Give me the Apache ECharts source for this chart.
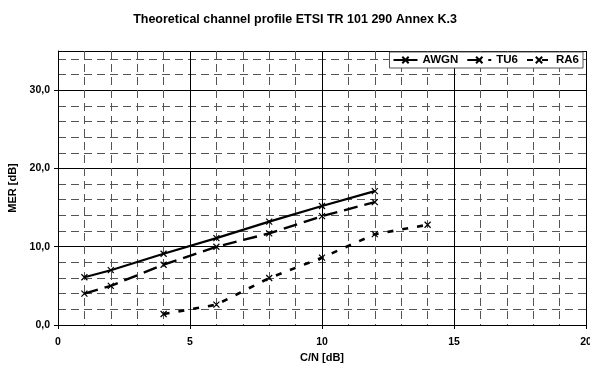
<!DOCTYPE html>
<html><head><meta charset="utf-8">
<script src="https://cdn.jsdelivr.net/npm/echarts@6/dist/echarts.min.js"></script>
<style>html,body{margin:0;padding:0;background:#fff}#c{width:590px;height:365px}</style>
</head><body><div id="c"></div>
<script>
var titleText = 'Theoretical channel profile ETSI TR 101 290 Annex K.3';
var xName = 'C/N [dB]';
var yName = 'MER [dB]';
var seriesNames = ['AWGN', 'TU6', 'RA6'];
var awgnX = [1, 2, 4, 6, 8, 10, 12];
var awgnY = [6.1, 7.0, 9.1, 11.1, 13.2, 15.2, 17.1];
var tu6X = [1, 2, 4, 6, 8, 10, 12];
var tu6Y = [4.0, 5.0, 7.7, 10.0, 11.7, 13.9, 15.7];
var ra6X = [4, 6, 8, 10, 12, 14];
var ra6Y = [1.4, 2.6, 6.0, 8.6, 11.6, 12.8];
var xTicks = [0, 5, 10, 15, 20];
var yTicks = [0, 10, 20, 30];

function pairs(xs, ys) { return xs.map(function (x, i) { return [x, ys[i]]; }); }
var font = 'Liberation Sans, Arial, sans-serif';
var cross = 'path://M0,0L10,10M10,0L0,10';

var chart = echarts.init(document.getElementById('c'), null, {renderer: 'canvas'});
function mkSeries(name, data, dash, width) {
  return {
    name: name, type: 'line', xAxisIndex: 1, yAxisIndex: 1, data: data,
    symbol: cross, symbolSize: 6, showSymbol: true,
    itemStyle: {color: '#fff', borderColor: '#000', borderWidth: 1.2},
    lineStyle: {color: '#000', width: width, type: dash},
    emphasis: {disabled: true}, animation: false, z: 5
  };
}
chart.setOption({
  animation: false,
  title: {text: titleText, left: 'center', top: 8,
    textStyle: {fontFamily: font, fontSize: 12.5, fontWeight: 'bold', color: '#000'}},
  legend: {
    data: seriesNames, right: 7, top: 52, padding: [2, 4, 2, 3], itemGap: 8,
    itemWidth: 24, itemHeight: 8,
    backgroundColor: '#fff', borderColor: '#555', borderWidth: 1, z: 10,
    textStyle: {fontFamily: font, fontSize: 11.5, fontWeight: 'bold', color: '#000'}
  },
  grid: {left: 58, right: 4, top: 51, bottom: 40, containLabel: false, outerBoundsMode: 'none'},
  xAxis: [
    {type: 'value', position: 'bottom', min: 0, max: 20, interval: 1, axisLabel: {show: false}, axisTick: {show: false},
     axisLine: {show: false},
     splitLine: {show: true, lineStyle: {color: '#555', width: 1, type: [8, 5]}}},
    {type: 'value', position: 'bottom', offset: 0, min: 0, max: 20, interval: 5, name: xName, nameLocation: 'middle', nameGap: 27,
     nameTextStyle: {fontFamily: font, fontSize: 11, fontWeight: 'bold', color: '#000'},
     axisLine: {show: true, onZero: false, lineStyle: {color: '#000', width: 1}},
     axisTick: {show: true, length: 4, lineStyle: {color: '#000'}},
     axisLabel: {fontFamily: font, fontSize: 10.5, fontWeight: 'bold', color: '#000', margin: 12},
     splitLine: {show: true, lineStyle: {color: '#000', width: 1}}}
  ],
  yAxis: [
    {type: 'value', position: 'left', min: 0, max: 35, interval: 2, axisLabel: {show: false}, axisTick: {show: false},
     axisLine: {show: false},
     splitLine: {show: true, lineStyle: {color: '#555', width: 1, type: [8, 5]}}},
    {type: 'value', position: 'left', offset: 0, min: 0, max: 35, interval: 10, name: yName, nameLocation: 'middle', nameGap: 40,
     nameTextStyle: {fontFamily: font, fontSize: 11, fontWeight: 'bold', color: '#000'},
     axisLine: {show: true, onZero: false, lineStyle: {color: '#000', width: 1}},
     axisTick: {show: true, length: 4, lineStyle: {color: '#000'}},
     axisLabel: {fontFamily: font, fontSize: 10.5, fontWeight: 'bold', color: '#000', margin: 8,
       showMaxLabel: false,
       formatter: function (v) { return yTicks.indexOf(v) >= 0 ? v.toFixed(1).replace('.', ',') : ''; }},
     splitLine: {show: true, lineStyle: {color: '#000', width: 1}}}
  ],
  series: [
    mkSeries(seriesNames[0], pairs(awgnX, awgnY), 'solid', 2.2),
    mkSeries(seriesNames[1], pairs(tu6X, tu6Y), [14, 7], 2.4),
    mkSeries(seriesNames[2], pairs(ra6X, ra6Y), [6, 9], 2.6)
  ]
});
</script></body></html>
